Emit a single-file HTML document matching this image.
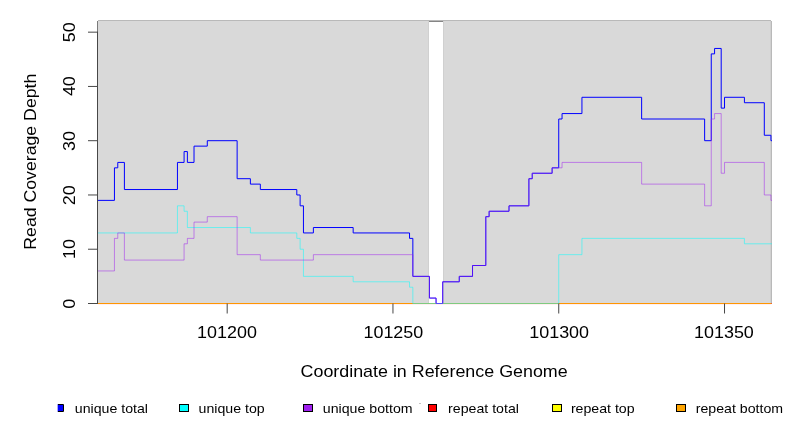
<!DOCTYPE html>
<html><head><meta charset="utf-8"><style>html,body{margin:0;padding:0;background:#fff;overflow:hidden}svg{display:block;will-change:transform}</style></head><body>
<svg width="792" height="432" viewBox="0 0 792 432">
<rect width="792" height="432" fill="#fff"/>
<rect x="97" y="21" width="675" height="283" fill="#d9d9d9"/>
<rect x="429" y="21" width="14" height="283" fill="#fff"/>
<rect x="428" y="21" width="1" height="282" fill="#d0d0d0"/>
<rect x="443" y="21" width="1" height="282" fill="#d0d0d0"/>
<rect x="770" y="21" width="1" height="282" fill="#d0d0d0"/>
<rect x="98" y="20" width="673" height="1" fill="#b9b9b9"/>
<rect x="97" y="21" width="1" height="282" fill="#7a7a7a"/>
<rect x="771" y="21" width="1" height="282" fill="#b9b9b9"/>
<rect x="429" y="21" width="14" height="1" fill="#858585"/>
<defs><clipPath id="pc"><rect x="97.5" y="0" width="674.5" height="304.5"/></clipPath></defs>
<g clip-path="url(#pc)" fill="none" stroke-width="1.0">
<rect x="97.5" y="304" width="673.5" height="1" fill="#ffe0e4"/>
<path d="M97.5,303.50H771" stroke="#ff0000" stroke-opacity="1.0"/>
<path d="M97.5,303.50H771" stroke="#ffff00" stroke-opacity="1.0"/>
<path d="M97.5,303.50H771" stroke="#ff9600" stroke-opacity="1.0"/>
<rect x="771" y="303" width="1" height="1" fill="#e8603a"/>
<path d="M96.50,200.39H114.45V167.84H117.77V162.41H124.40V189.54H177.45V162.41H184.08V151.56H187.39V162.41H194.02V146.13H207.29V140.70H237.13V178.69H250.39V184.11H260.34V189.54H296.81V194.97H300.12V205.82H303.44V232.95H313.39V227.53H353.17V232.95H409.54V238.38H412.85V276.37H429.43V298.07H436.06V303.50H442.69V281.79H459.27V276.37H472.53V265.51H485.80V216.67H489.11V211.25H509.01V205.82H528.90V178.69H532.22V173.26H552.11V167.84H558.74V119.00H562.06V113.57H581.95V97.29H641.63V119.00H704.63V140.70H711.26V53.88H714.57V48.45H721.20V108.14H724.52V97.29H744.41V102.72H764.31V135.28H770.94V140.70H772.50" stroke="#0000ff"/>
<path d="M96.50,232.95H177.45V205.82H184.08V211.25H187.39V227.53H250.39V232.95H296.81V238.38H300.12V249.23H303.44V276.37H353.17V281.79H409.54V287.22H412.85V303.50H558.74V254.66H581.95V238.38H744.41V243.81H772.50" stroke="#00ffff" stroke-opacity="0.5"/>
<path d="M96.50,270.94H114.45V238.38H117.77V232.95H124.40V260.09H184.08V243.81H187.39V238.38H194.02V222.10H207.29V216.67H237.13V254.66H260.34V260.09H313.39V254.66H412.85V276.37H429.43V298.07H436.06V303.50H442.69V281.79H459.27V276.37H472.53V265.51H485.80V216.67H489.11V211.25H509.01V205.82H528.90V178.69H532.22V173.26H552.11V167.84H562.06V162.41H641.63V184.11H704.63V205.82H711.26V119.00H714.57V113.57H721.20V173.26H724.52V162.41H764.31V194.97H770.94V200.39H772.50" stroke="#a020f0" stroke-opacity="0.5"/>
</g>
<g fill="none" stroke="#474747" stroke-width="1">
<path d="M97.5,304.00V31.67"/>
<path d="M88,303.50H97.5"/>
<path d="M88,249.23H97.5"/>
<path d="M88,194.97H97.5"/>
<path d="M88,140.70H97.5"/>
<path d="M88,86.44H97.5"/>
<path d="M88,32.17H97.5"/>
<path d="M227.18,303.50V313.5"/>
<path d="M392.96,303.50V313.5"/>
<path d="M558.74,303.50V313.5"/>
<path d="M724.52,303.50V313.5"/>
</g>
<g font-family="Liberation Sans, sans-serif" fill="#000" text-anchor="middle">
<text transform="translate(226.98,337.90) scale(1.0800,1)" font-size="16.6">101200</text>
<text transform="translate(393.36,337.90) scale(1.0800,1)" font-size="16.6">101250</text>
<text transform="translate(559.14,337.90) scale(1.0800,1)" font-size="16.6">101300</text>
<text transform="translate(723.92,337.90) scale(1.0800,1)" font-size="16.6">101350</text>
<text transform="translate(434.10,376.70) scale(1.0900,1)" font-size="16.4">Coordinate in Reference Genome</text>
<text transform="translate(35.80,161.70) rotate(-90) scale(1.0800,1)" font-size="16.4">Read Coverage Depth</text>
<text transform="translate(111.40,412.60) scale(1.0900,1)" font-size="13">unique total</text>
<text transform="translate(231.60,412.60) scale(1.0900,1)" font-size="13">unique top</text>
<text transform="translate(367.70,412.60) scale(1.0900,1)" font-size="13">unique bottom</text>
<text transform="translate(483.50,412.60) scale(1.0900,1)" font-size="13">repeat total</text>
<text transform="translate(602.75,412.60) scale(1.0900,1)" font-size="13">repeat top</text>
<text transform="translate(739.40,412.60) scale(1.0900,1)" font-size="13">repeat bottom</text>
<text transform="translate(75.20,303.80) rotate(-90) scale(1.0800,1)" font-size="16.6">0</text>
<text transform="translate(75.20,249.05) rotate(-90) scale(1.0800,1)" font-size="16.6">10</text>
<text transform="translate(75.20,195.31) rotate(-90) scale(1.0800,1)" font-size="16.6">20</text>
<text transform="translate(75.20,141.06) rotate(-90) scale(1.0800,1)" font-size="16.6">30</text>
<text transform="translate(75.20,86.12) rotate(-90) scale(1.0800,1)" font-size="16.6">40</text>
<text transform="translate(75.20,32.27) rotate(-90) scale(1.0800,1)" font-size="16.6">50</text>
</g>
<rect x="57" y="404" width="1" height="8" fill="#a8a8ff"/><rect x="58" y="405" width="5" height="6" fill="#0000ff"/><path d="M58,404.5H63.5V411.5H58" fill="none" stroke="#000" stroke-width="1"/>
<rect x="179.5" y="404.5" width="9" height="7" fill="#00ffff" stroke="#000" stroke-width="1"/>
<rect x="303.5" y="404.5" width="9" height="7" fill="#a020f0" stroke="#000" stroke-width="1"/>
<rect x="428.5" y="404.5" width="8" height="7" fill="#ff0000" stroke="#000" stroke-width="1"/>
<rect x="552.5" y="404.5" width="9" height="7" fill="#ffff00" stroke="#000" stroke-width="1"/>
<rect x="676.5" y="404.5" width="9" height="7" fill="#ffa500" stroke="#000" stroke-width="1"/>
<rect x="419" y="403" width="2" height="1" fill="#c4c4c4"/>
</svg>
</body></html>
